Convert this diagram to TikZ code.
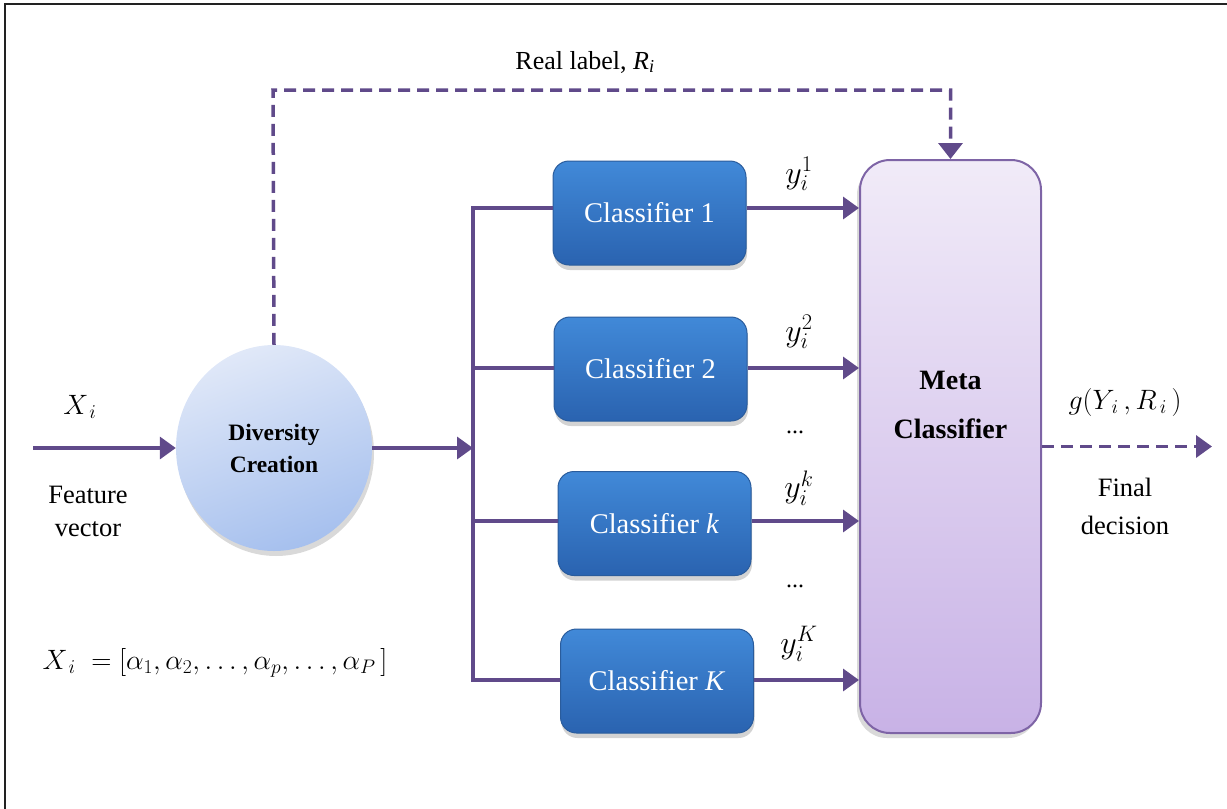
\RequirePackage{fix-cm}
\documentclass[tikz,border=0pt]{standalone}
\usepackage{fontspec}
\setmainfont{Liberation Serif}
\usetikzlibrary{arrows.meta,shadows,shapes.geometric}
\definecolor{flow}{HTML}{604A8A}
\definecolor{clsTop}{HTML}{4189D8}
\definecolor{clsBot}{HTML}{2A63B0}
\definecolor{clsEdge}{HTML}{2A5C9C}
\definecolor{metaTop}{HTML}{F1EBF8}
\definecolor{metaBot}{HTML}{C8B2E6}
\definecolor{metaEdge}{HTML}{7E64A6}
\definecolor{divTop}{HTML}{E0E8F8}
\definecolor{divBot}{HTML}{A6C0EE}
\definecolor{frame}{HTML}{222222}
\begin{document}
\begin{tikzpicture}[x=1pt,y=-1pt,
  flowline/.style={draw=flow, line width=3.5pt},
  solidtip/.style={-{Triangle[length=16pt,width=22pt]}},
  dashline/.style={flowline, dash pattern=on 12pt off 7pt},
  classbox/.style={rectangle, rounded corners=16pt, minimum width=193pt,
    minimum height=104pt, top color=clsTop, bottom color=clsBot,
    draw=clsEdge, line width=1pt, text=white,
    font=\fontsize{28.5}{32}\selectfont,
    drop shadow={shadow xshift=1pt, shadow yshift=-5pt, opacity=0.35}},
  label/.style={font=\fontsize{26}{32}\selectfont, align=center},
  mathlabel/.style={font=\fontsize{28}{32}\selectfont},
  outlabel/.style={font=\fontsize{32}{36}\selectfont},
  dotlabel/.style={font=\fontsize{24}{28}\selectfont}
]
\useasboundingbox (0,0) rectangle (1227,809);

% frame lines (top and left only)
\draw[frame, line width=2pt] (5,809) -- (5,4) -- (1227,4);

% diversity creation sphere
\node[ellipse, minimum width=196pt, minimum height=206pt, inner sep=0pt,
  top color=divTop, bottom color=divBot, shading angle=20,
  drop shadow={shadow xshift=2pt, shadow yshift=-5pt, opacity=0.3},
  align=center, font=\fontsize{23.5}{32}\selectfont\bfseries]
  (div) at (274,448) {Diversity\\Creation};

% base classifiers
\node[classbox] (c1) at (649.5,213) {Classifier 1};
\node[classbox] (c2) at (650.5,369) {Classifier 2};
\node[classbox] (ck) at (654.5,523.5) {Classifier \textit{k}};
\node[classbox] (cK) at (657,681) {Classifier \textit{K}};

% meta classifier
\node[rectangle, rounded corners=30pt, minimum width=181pt, minimum height=573pt,
  top color=metaTop, bottom color=metaBot, draw=metaEdge, line width=2pt,
  drop shadow={shadow xshift=-3pt, shadow yshift=-5pt, opacity=0.3}]
  (meta) at (950.5,446.5) {};
\node[align=center, font=\fontsize{28}{49}\selectfont\bfseries]
  (metatext) at (950.5,405) {Meta\\Classifier};

% input
\coordinate (in) at (33,448);
\draw[flowline, solidtip] (in) -- (div.west);
\node[mathlabel] (xi) at (80,407) {$X_{\,i}$};
\node[label, font=\fontsize{26.5}{33}\selectfont] (fv) at (88,511) {Feature\\vector};

% distribution bus
\coordinate (busMid) at (473,448);
\coordinate (busTop) at (473,208);
\coordinate (busBot) at (473,680);
\draw[flowline, solidtip] (div.east) -- (busMid);
\draw[flowline, line cap=rect] (busTop) -- (busBot);
\draw[flowline] (busTop) -- (c1.west |- busTop);
\coordinate (b2) at (473,368);
\coordinate (bk) at (473,521);
\draw[flowline] (b2) -- (c2.west |- b2);
\draw[flowline] (bk) -- (ck.west |- bk);
\draw[flowline] (busBot) -- (cK.west |- busBot);

% classifier outputs
\draw[flowline, solidtip] (c1.east |- busTop) -- (meta.west |- busTop);
\draw[flowline, solidtip] (c2.east |- b2) -- (meta.west |- b2);
\draw[flowline, solidtip] (ck.east |- bk) -- (meta.west |- bk);
\draw[flowline, solidtip] (cK.east |- busBot) -- (meta.west |- busBot);

\node[outlabel] (y1) at (799,174) {$y_i^1$};
\node[outlabel] (y2) at (799,332) {$y_i^2$};
\node[dotlabel] (dots1) at (795,432) {...};
\node[outlabel] (yk) at (799,488) {$y_i^k$};
\node[dotlabel] (dots2) at (795,586) {...};
\node[outlabel] (yK) at (799,644) {$y_i^K$};

% real-label feedback
\coordinate (fbL) at (273,90);
\coordinate (fbR) at (950.5,90);
\draw[dashline, -{Triangle[length=16pt,width=24pt]}] (div.north) -- (fbL) -- (fbR) -- (meta.north);
\node[label] (rl) at (585,62) {Real label, \textit{R\textsubscript{i}}};

% final decision
\coordinate (out) at (1212,446.5);
\draw[dashline, solidtip] (meta.east) -- (out);
\node[mathlabel] (g) at (1125,402) {$g(Y_{\,i}\,,R_{\,i}\,)$};
\node[label, font=\fontsize{26.5}{38}\selectfont] (fd) at (1125,506) {Final\\decision};

% feature vector definition
\node[mathlabel] (def) at (215,663)
  {$X_{\,i}\;=[\alpha_1,\alpha_2,\dots,\alpha_p,\dots,\alpha_P\,]$};
\end{tikzpicture}
\end{document}
